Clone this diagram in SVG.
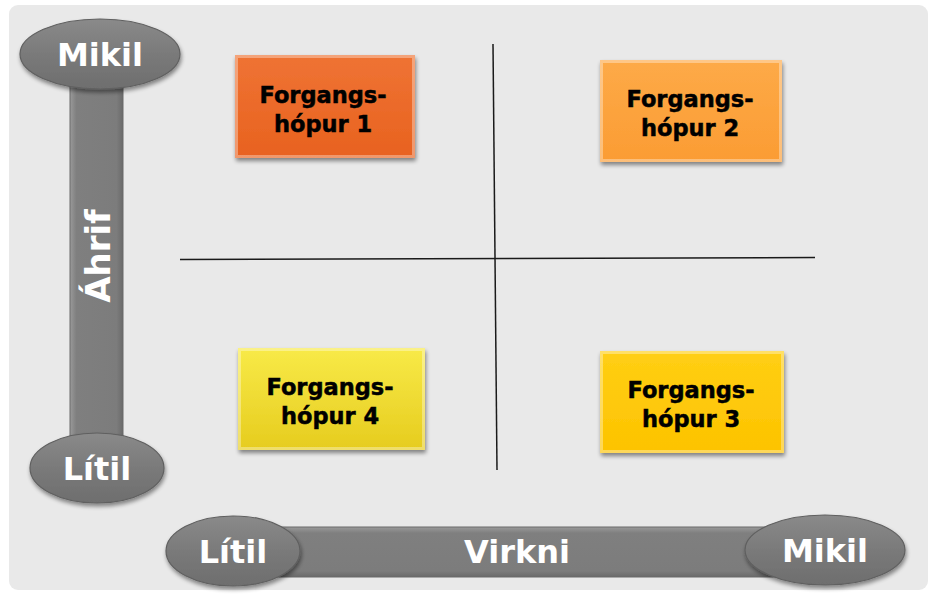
<svg xmlns="http://www.w3.org/2000/svg" width="933" height="594" viewBox="0 0 933 594">
<style>
.lbl{font-family:"DejaVu Sans",Verdana,sans-serif;font-weight:bold;font-size:22.5px;fill:#000;stroke:#000;stroke-width:0.5;text-anchor:middle}
.axl{font-family:"DejaVu Sans",Verdana,sans-serif;font-weight:bold;font-size:32px;fill:#fff;text-anchor:middle}
.bar{fill:url(#barg);stroke:#6a6a6a;stroke-width:1}
.barv{fill:url(#barh);stroke:#6a6a6a;stroke-width:1}
.ell{fill:url(#ellg);stroke:#606060;stroke-width:1.2;filter:url(#sh)}
.box{filter:url(#sh);stroke:none}
.bev{fill:none;stroke:#fff;stroke-opacity:0.35;stroke-width:3}
</style>
<defs>
<filter id="sh" x="-10%" y="-10%" width="125%" height="130%">
<feGaussianBlur in="SourceAlpha" stdDeviation="2"/>
<feOffset dx="1" dy="3" result="o"/>
<feComponentTransfer><feFuncA type="linear" slope="0.45"/></feComponentTransfer>
<feMerge><feMergeNode/><feMergeNode in="SourceGraphic"/></feMerge>
</filter>
<linearGradient id="ellg" x1="0" y1="0" x2="0" y2="1">
<stop offset="0" stop-color="#8a8a8a"/><stop offset="0.5" stop-color="#7a7a7a"/><stop offset="1" stop-color="#6e6e6e"/>
</linearGradient>
<linearGradient id="barg" x1="0" y1="0" x2="0" y2="1">
<stop offset="0" stop-color="#9a9a9a"/><stop offset="0.12" stop-color="#7f7f7f"/><stop offset="0.88" stop-color="#7c7c7c"/><stop offset="1" stop-color="#6a6a6a"/>
</linearGradient>
<linearGradient id="barh" x1="0" y1="0" x2="1" y2="0">
<stop offset="0" stop-color="#9a9a9a"/><stop offset="0.12" stop-color="#7f7f7f"/><stop offset="0.88" stop-color="#7c7c7c"/><stop offset="1" stop-color="#6a6a6a"/>
</linearGradient>
<linearGradient id="g1" x1="0" y1="0" x2="0" y2="1"><stop offset="0" stop-color="#ef7334"/><stop offset="1" stop-color="#e8621f"/></linearGradient>
<linearGradient id="g2" x1="0" y1="0" x2="0" y2="1"><stop offset="0" stop-color="#fdaa48"/><stop offset="1" stop-color="#fb9c33"/></linearGradient>
<linearGradient id="g3" x1="0" y1="0" x2="0" y2="1"><stop offset="0" stop-color="#ffcf14"/><stop offset="1" stop-color="#fdc300"/></linearGradient>
<linearGradient id="g4" x1="0" y1="0" x2="0" y2="1"><stop offset="0" stop-color="#f8ea48"/><stop offset="1" stop-color="#e6cc1e"/></linearGradient>
</defs>
<rect x="0" y="0" width="933" height="594" fill="#fff"/>
<rect x="9" y="5" width="919" height="585" rx="9" fill="#e9e9e9"/>

<g id="connectors" stroke="#1a1a1a" stroke-width="1.5" fill="none">
<line x1="180" y1="259.5" x2="815" y2="257.5"/>
<line x1="493" y1="44" x2="497" y2="470"/>
</g>

<g id="axis-impact">
<rect class="barv" x="70" y="80" width="53" height="370"/>
<text class="axl" transform="translate(110,256) rotate(-90)" style="font-size:34px">Áhrif</text>
</g>
<g id="axis-effect">
<rect class="bar" x="228" y="527" width="624" height="50"/>
<text class="axl" x="517" y="563">Virkni</text>
</g>
<g id="impact-high">
<ellipse class="ell" cx="100" cy="54" rx="80" ry="35"/>
<text class="axl" x="100" y="66">Mikil</text>
</g>
<g id="impact-low">
<ellipse class="ell" cx="97" cy="468" rx="67" ry="35"/>
<text class="axl" x="97" y="480">Lítil</text>
</g>
<g id="effect-low">
<ellipse class="ell" cx="233" cy="551" rx="67" ry="35"/>
<text class="axl" x="233" y="563">Lítil</text>
</g>
<g id="effect-high">
<ellipse class="ell" cx="825" cy="550" rx="80" ry="35"/>
<text class="axl" x="825" y="562">Mikil</text>
</g>

<g id="group1">
<rect class="box" x="235" y="55" width="180" height="103" fill="url(#g1)"/>
<rect class="bev" x="236.5" y="56.5" width="177" height="100"/>
<text class="lbl" x="323" y="103">Forgangs-</text>
<text class="lbl" x="323" y="132">hópur 1</text>
</g>
<g id="group2">
<rect class="box" x="600" y="60" width="182" height="102" fill="url(#g2)"/>
<rect class="bev" x="601.5" y="61.5" width="179" height="99"/>
<text class="lbl" x="690" y="107">Forgangs-</text>
<text class="lbl" x="690" y="136">hópur 2</text>
</g>
<g id="group4">
<rect class="box" x="238" y="348" width="187" height="102" fill="url(#g4)"/>
<rect class="bev" x="239.5" y="349.5" width="184" height="99"/>
<text class="lbl" x="330" y="395">Forgangs-</text>
<text class="lbl" x="330" y="424">hópur 4</text>
</g>
<g id="group3">
<rect class="box" x="600" y="351" width="184" height="102" fill="url(#g3)"/>
<rect class="bev" x="601.5" y="352.5" width="181" height="99"/>
<text class="lbl" x="691" y="398">Forgangs-</text>
<text class="lbl" x="691" y="427">hópur 3</text>
</g>
</svg>
